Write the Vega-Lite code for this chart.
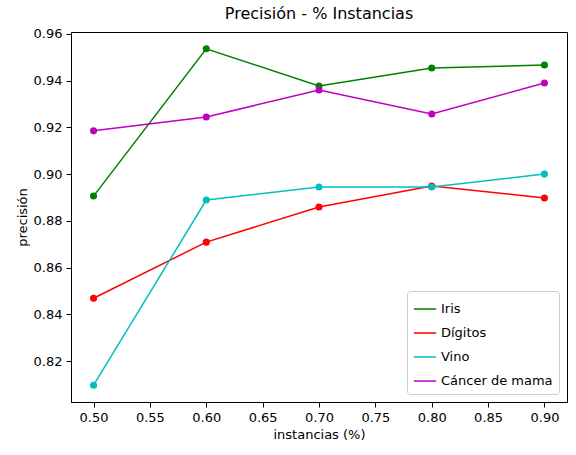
{
"$schema":"https://vega.github.io/schema/vega-lite/v6.json",
"autosize":{"type":"none"},
"padding":{"left":71,"top":32,"right":9,"bottom":53},
"width":496,"height":370,
"title":{"text":"Precisión - % Instancias","fontSize":16,"fontWeight":"normal","font":"DejaVu Sans","color":"black","offset":6},
"config":{"font":"DejaVu Sans","view":{"stroke":"black"},"axis":{"grid":false,"labelFont":"DejaVu Sans","titleFont":"DejaVu Sans","labelFontSize":13,"titleFontSize":13,"titleFontWeight":"normal","labelColor":"black","titleColor":"black","domainColor":"black","tickColor":"black","tickSize":5,"labelPadding":4}},
"data":{"values":[
{"x":0.5,"y":0.8906,"s":"Iris"},{"x":0.6,"y":0.9536,"s":"Iris"},{"x":0.7,"y":0.9377,"s":"Iris"},{"x":0.8,"y":0.9454,"s":"Iris"},{"x":0.9,"y":0.9467,"s":"Iris"},
{"x":0.5,"y":0.8469,"s":"Dígitos"},{"x":0.6,"y":0.8709,"s":"Dígitos"},{"x":0.7,"y":0.8859,"s":"Dígitos"},{"x":0.8,"y":0.8949,"s":"Dígitos"},{"x":0.9,"y":0.8898,"s":"Dígitos"},
{"x":0.5,"y":0.8097,"s":"Vino"},{"x":0.6,"y":0.8889,"s":"Vino"},{"x":0.7,"y":0.8945,"s":"Vino"},{"x":0.8,"y":0.8945,"s":"Vino"},{"x":0.9,"y":0.9,"s":"Vino"},
{"x":0.5,"y":0.9185,"s":"Cáncer de mama"},{"x":0.6,"y":0.9244,"s":"Cáncer de mama"},{"x":0.7,"y":0.936,"s":"Cáncer de mama"},{"x":0.8,"y":0.9257,"s":"Cáncer de mama"},{"x":0.9,"y":0.939,"s":"Cáncer de mama"}
]},
"mark":{"type":"line","point":{"size":50,"filled":true,"opacity":1},"strokeWidth":1.5},
"encoding":{
"x":{"field":"x","type":"quantitative","title":"instancias (%)","scale":{"domain":[0.48,0.92],"nice":false,"zero":false},"axis":{"values":[0.5,0.55,0.6,0.65,0.7,0.75,0.8,0.85,0.9],"format":".2f"}},
"y":{"field":"y","type":"quantitative","title":"precisión","scale":{"domain":[0.8025,0.9608],"nice":false,"zero":false},"axis":{"values":[0.82,0.84,0.86,0.88,0.9,0.92,0.94,0.96],"format":".2f"}},
"color":{"field":"s","type":"nominal","sort":["Iris","Dígitos","Vino","Cáncer de mama"],"scale":{"domain":["Iris","Dígitos","Vino","Cáncer de mama"],"range":["#008000","#ff0000","#00bfbf","#bf00bf"]},
"legend":{"title":null,"orient":"bottom-right","offset":8,"strokeColor":"#cccccc","fillColor":"white","padding":6,"cornerRadius":3,"labelFontSize":13,"labelFont":"DejaVu Sans","labelColor":"black","rowPadding":5,"symbolType":"stroke","symbolStrokeWidth":1.5,"symbolSize":500}}
}
}
